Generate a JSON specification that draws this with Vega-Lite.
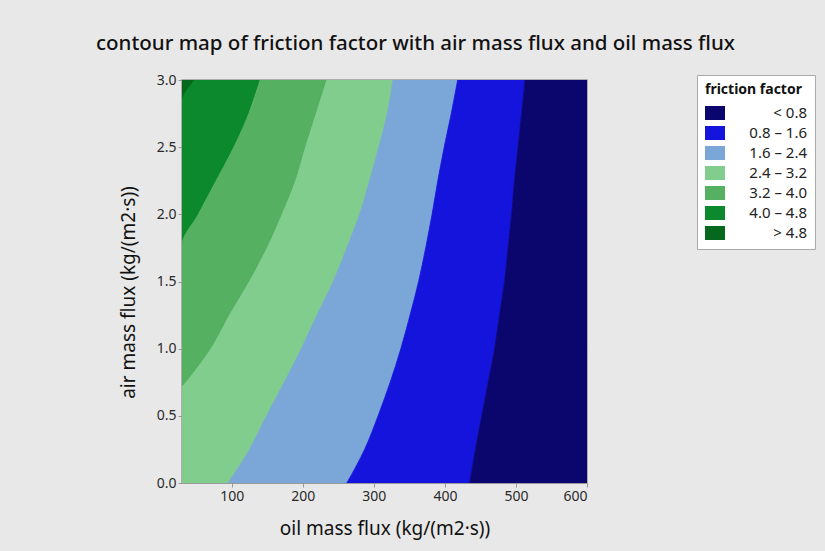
{
  "$schema": "https://vega.github.io/schema/vega-lite/v6.json",
  "width": 405,
  "height": 403,
  "autosize": "none",
  "padding": {"left": 182, "top": 80, "right": 238, "bottom": 68},
  "background": "#e8e8e8",
  "title": {
    "text": "contour map of friction factor with air mass flux and oil mass flux",
    "fontSize": 20.5,
    "font": "Noto Sans",
    "fontWeight": 500,
    "color": "#111111",
    "anchor": "middle",
    "dx": 31,
    "offset": 19
  },
  "data": {
    "values": [
      {"band": "> 4.8", "air": 2.83, "oil_from": 30, "oil_to": 30},
      {"band": "> 4.8", "air": 3.0, "oil_from": 30, "oil_to": 48},

      {"band": "4.0 – 4.8", "air": 1.77, "oil_from": 30, "oil_to": 30},
      {"band": "4.0 – 4.8", "air": 2.0, "oil_from": 30, "oil_to": 53},
      {"band": "4.0 – 4.8", "air": 2.25, "oil_from": 30, "oil_to": 78},
      {"band": "4.0 – 4.8", "air": 2.5, "oil_from": 30, "oil_to": 103},
      {"band": "4.0 – 4.8", "air": 2.75, "oil_from": 30, "oil_to": 124},
      {"band": "4.0 – 4.8", "air": 2.83, "oil_from": 30, "oil_to": 129},
      {"band": "4.0 – 4.8", "air": 3.0, "oil_from": 48, "oil_to": 140},

      {"band": "3.2 – 4.0", "air": 0.71, "oil_from": 30, "oil_to": 30},
      {"band": "3.2 – 4.0", "air": 0.75, "oil_from": 30, "oil_to": 36},
      {"band": "3.2 – 4.0", "air": 1.0, "oil_from": 30, "oil_to": 71},
      {"band": "3.2 – 4.0", "air": 1.25, "oil_from": 30, "oil_to": 97},
      {"band": "3.2 – 4.0", "air": 1.5, "oil_from": 30, "oil_to": 125},
      {"band": "3.2 – 4.0", "air": 1.75, "oil_from": 30, "oil_to": 150},
      {"band": "3.2 – 4.0", "air": 1.77, "oil_from": 30, "oil_to": 152},
      {"band": "3.2 – 4.0", "air": 2.0, "oil_from": 53, "oil_to": 171},
      {"band": "3.2 – 4.0", "air": 2.25, "oil_from": 78, "oil_to": 190},
      {"band": "3.2 – 4.0", "air": 2.5, "oil_from": 103, "oil_to": 204},
      {"band": "3.2 – 4.0", "air": 2.75, "oil_from": 124, "oil_to": 219},
      {"band": "3.2 – 4.0", "air": 3.0, "oil_from": 140, "oil_to": 234},

      {"band": "2.4 – 3.2", "air": 0.0, "oil_from": 30, "oil_to": 95},
      {"band": "2.4 – 3.2", "air": 0.25, "oil_from": 30, "oil_to": 125},
      {"band": "2.4 – 3.2", "air": 0.5, "oil_from": 30, "oil_to": 149},
      {"band": "2.4 – 3.2", "air": 0.71, "oil_from": 30, "oil_to": 170},
      {"band": "2.4 – 3.2", "air": 0.75, "oil_from": 36, "oil_to": 174},
      {"band": "2.4 – 3.2", "air": 1.0, "oil_from": 71, "oil_to": 198},
      {"band": "2.4 – 3.2", "air": 1.25, "oil_from": 97, "oil_to": 220},
      {"band": "2.4 – 3.2", "air": 1.5, "oil_from": 125, "oil_to": 243},
      {"band": "2.4 – 3.2", "air": 1.75, "oil_from": 150, "oil_to": 262},
      {"band": "2.4 – 3.2", "air": 2.0, "oil_from": 171, "oil_to": 280},
      {"band": "2.4 – 3.2", "air": 2.25, "oil_from": 190, "oil_to": 294},
      {"band": "2.4 – 3.2", "air": 2.5, "oil_from": 204, "oil_to": 307},
      {"band": "2.4 – 3.2", "air": 2.75, "oil_from": 219, "oil_to": 319},
      {"band": "2.4 – 3.2", "air": 3.0, "oil_from": 234, "oil_to": 327},

      {"band": "1.6 – 2.4", "air": 0.0, "oil_from": 95, "oil_to": 262},
      {"band": "1.6 – 2.4", "air": 0.25, "oil_from": 125, "oil_to": 287},
      {"band": "1.6 – 2.4", "air": 0.5, "oil_from": 149, "oil_to": 306},
      {"band": "1.6 – 2.4", "air": 0.75, "oil_from": 174, "oil_to": 323},
      {"band": "1.6 – 2.4", "air": 1.0, "oil_from": 198, "oil_to": 338},
      {"band": "1.6 – 2.4", "air": 1.25, "oil_from": 220, "oil_to": 351},
      {"band": "1.6 – 2.4", "air": 1.5, "oil_from": 243, "oil_to": 363},
      {"band": "1.6 – 2.4", "air": 1.75, "oil_from": 262, "oil_to": 373},
      {"band": "1.6 – 2.4", "air": 2.0, "oil_from": 280, "oil_to": 382},
      {"band": "1.6 – 2.4", "air": 2.25, "oil_from": 294, "oil_to": 390},
      {"band": "1.6 – 2.4", "air": 2.5, "oil_from": 307, "oil_to": 399},
      {"band": "1.6 – 2.4", "air": 2.75, "oil_from": 319, "oil_to": 409},
      {"band": "1.6 – 2.4", "air": 3.0, "oil_from": 327, "oil_to": 418},

      {"band": "0.8 – 1.6", "air": 0.0, "oil_from": 262, "oil_to": 435},
      {"band": "0.8 – 1.6", "air": 0.25, "oil_from": 287, "oil_to": 443},
      {"band": "0.8 – 1.6", "air": 0.5, "oil_from": 306, "oil_to": 452},
      {"band": "0.8 – 1.6", "air": 0.75, "oil_from": 323, "oil_to": 461},
      {"band": "0.8 – 1.6", "air": 1.0, "oil_from": 338, "oil_to": 470},
      {"band": "0.8 – 1.6", "air": 1.25, "oil_from": 351, "oil_to": 477},
      {"band": "0.8 – 1.6", "air": 1.5, "oil_from": 363, "oil_to": 484},
      {"band": "0.8 – 1.6", "air": 1.75, "oil_from": 373, "oil_to": 489},
      {"band": "0.8 – 1.6", "air": 2.0, "oil_from": 382, "oil_to": 494},
      {"band": "0.8 – 1.6", "air": 2.25, "oil_from": 390, "oil_to": 498},
      {"band": "0.8 – 1.6", "air": 2.5, "oil_from": 399, "oil_to": 503},
      {"band": "0.8 – 1.6", "air": 2.75, "oil_from": 409, "oil_to": 508},
      {"band": "0.8 – 1.6", "air": 3.0, "oil_from": 418, "oil_to": 513},

      {"band": "< 0.8", "air": 0.0, "oil_from": 435, "oil_to": 600},
      {"band": "< 0.8", "air": 0.25, "oil_from": 443, "oil_to": 600},
      {"band": "< 0.8", "air": 0.5, "oil_from": 452, "oil_to": 600},
      {"band": "< 0.8", "air": 0.75, "oil_from": 461, "oil_to": 600},
      {"band": "< 0.8", "air": 1.0, "oil_from": 470, "oil_to": 600},
      {"band": "< 0.8", "air": 1.25, "oil_from": 477, "oil_to": 600},
      {"band": "< 0.8", "air": 1.5, "oil_from": 484, "oil_to": 600},
      {"band": "< 0.8", "air": 1.75, "oil_from": 489, "oil_to": 600},
      {"band": "< 0.8", "air": 2.0, "oil_from": 494, "oil_to": 600},
      {"band": "< 0.8", "air": 2.25, "oil_from": 498, "oil_to": 600},
      {"band": "< 0.8", "air": 2.5, "oil_from": 503, "oil_to": 600},
      {"band": "< 0.8", "air": 2.75, "oil_from": 508, "oil_to": 600},
      {"band": "< 0.8", "air": 3.0, "oil_from": 513, "oil_to": 600}
    ]
  },
  "mark": {"type": "area", "orient": "horizontal", "clip": true, "interpolate": "monotone", "strokeWidth": 0.8},
  "encoding": {
    "y": {
      "field": "air",
      "type": "quantitative",
      "scale": {"domain": [0, 3], "nice": false},
      "title": "air mass flux (kg/(m2·s))",
      "axis": {"values": [0, 0.5, 1, 1.5, 2, 2.5, 3], "format": ".1f", "titlePadding": 18, "titleY": 212}
    },
    "x": {
      "field": "oil_from",
      "type": "quantitative",
      "stack": null,
      "scale": {"domain": [30, 600], "nice": false, "zero": false},
      "title": "oil mass flux (kg/(m2·s))",
      "axis": {"values": [100, 200, 300, 400, 500, 600], "titlePadding": 16}
    },
    "x2": {"field": "oil_to"},
    "color": {
      "field": "band",
      "type": "nominal",
      "scale": {
        "domain": ["< 0.8", "0.8 – 1.6", "1.6 – 2.4", "2.4 – 3.2", "3.2 – 4.0", "4.0 – 4.8", "> 4.8"],
        "range": ["#0b066e", "#1414dc", "#7ba6d8", "#80cd8e", "#55b062", "#0b892c", "#06681c"]
      },
      "legend": {
        "title": "friction factor",
        "orient": "none",
        "legendX": 515,
        "legendY": -5,
        "symbolType": "M-1,-0.7H1V0.7H-1Z",
        "symbolSize": 400,
        "symbolStrokeWidth": 0,
        "labelAlign": "right",
        "labelOffset": 82,
        "rowPadding": 2,
        "padding": 8,
        "fillColor": "#ffffff",
        "strokeColor": "#aaaaaa",
        "titleFontSize": 14,
        "titleFontWeight": "bold",
        "titleColor": "#111111",
        "titlePadding": 6,
        "labelFontSize": 15,
        "labelColor": "#222222",
        "titleFont": "Noto Sans",
        "labelFont": "Noto Sans"
      }
    },
    "stroke": {
      "field": "band",
      "type": "nominal",
      "scale": {
        "domain": ["< 0.8", "0.8 – 1.6", "1.6 – 2.4", "2.4 – 3.2", "3.2 – 4.0", "4.0 – 4.8", "> 4.8"],
        "range": ["#0b066e", "#1414dc", "#7ba6d8", "#80cd8e", "#55b062", "#0b892c", "#06681c"]
      },
      "legend": null
    }
  },
  "config": {
    "view": {"stroke": "#9a9a9a", "strokeWidth": 1.5},
    "axis": {
      "grid": false,
      "domainColor": "#9a9a9a",
      "tickColor": "#9a9a9a",
      "tickSize": 4,
      "labelFont": "Noto Sans",
      "labelFontSize": 14,
      "labelColor": "#2a2a2a",
      "titleFont": "Noto Sans",
      "titleFontSize": 19,
      "titleFontWeight": "normal",
      "titleColor": "#111111"
    }
  }
}
